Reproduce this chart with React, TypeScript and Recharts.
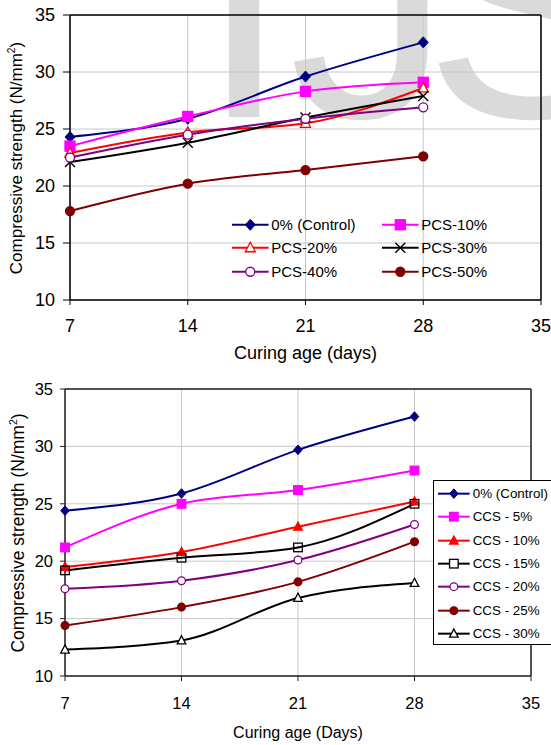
import { CartesianGrid, Legend, Line, LineChart, ReferenceLine, XAxis, YAxis } from "recharts";

// curing age (days) and axis ticks
const days = [7, 14, 21, 28];
const xTicks = [7, 14, 21, 28, 35];
const yTicks = [10, 15, 20, 25, 30, 35];

// top chart: PCS replacement
const pcsNames = ["0% (Control)", "PCS-10%", "PCS-20%", "PCS-30%", "PCS-40%", "PCS-50%"];
const control = [24.3, 25.9, 29.6, 32.6];
const pcs10 = [23.5, 26.1, 28.3, 29.1];
const pcs20 = [22.9, 24.7, 25.5, 28.6];
const pcs30 = [22.1, 23.8, 26.0, 27.9];
const pcs40 = [22.5, 24.5, 25.9, 26.9];
const pcs50 = [17.8, 20.2, 21.4, 22.6];

// bottom chart: CCS replacement
const ccsNames = ["0% (Control)", "CCS - 5%", "CCS - 10%", "CCS - 15%", "CCS - 20%", "CCS - 25%", "CCS - 30%"];
const controlB = [24.4, 25.9, 29.7, 32.6];
const ccs5 = [21.2, 25.0, 26.2, 27.9];
const ccs10 = [19.5, 20.8, 23.0, 25.2];
const ccs15 = [19.2, 20.3, 21.2, 25.0];
const ccs20 = [17.6, 18.3, 20.1, 23.2];
const ccs25 = [14.4, 16.0, 18.2, 21.7];
const ccs30 = [12.3, 13.1, 16.8, 18.1];

const font = "'Liberation Sans', Arial, sans-serif";

type Shape = "diamond" | "square" | "triangle" | "x" | "circle";
type Series = { name: string; values: number[]; color: string; shape: Shape; fill: string };

const topSeries: Series[] = [
  { name: pcsNames[0], values: control, color: "#000080", shape: "diamond", fill: "#000080" },
  { name: pcsNames[1], values: pcs10, color: "#ff00ff", shape: "square", fill: "#ff00ff" },
  { name: pcsNames[2], values: pcs20, color: "#ff0000", shape: "triangle", fill: "#fff" },
  { name: pcsNames[3], values: pcs30, color: "#000000", shape: "x", fill: "none" },
  { name: pcsNames[4], values: pcs40, color: "#800080", shape: "circle", fill: "#fff" },
  { name: pcsNames[5], values: pcs50, color: "#800000", shape: "circle", fill: "#800000" },
];

const bottomSeries: Series[] = [
  { name: ccsNames[0], values: controlB, color: "#000080", shape: "diamond", fill: "#000080" },
  { name: ccsNames[1], values: ccs5, color: "#ff00ff", shape: "square", fill: "#ff00ff" },
  { name: ccsNames[2], values: ccs10, color: "#ff0000", shape: "triangle", fill: "#ff0000" },
  { name: ccsNames[3], values: ccs15, color: "#000000", shape: "square", fill: "none" },
  { name: ccsNames[4], values: ccs20, color: "#800080", shape: "circle", fill: "#fff" },
  { name: ccsNames[5], values: ccs25, color: "#800000", shape: "circle", fill: "#800000" },
  { name: ccsNames[6], values: ccs30, color: "#000000", shape: "triangle", fill: "#fff" },
];

function buildRows(series: Series[]) {
  return days.map((d, i) => {
    const row: Record<string, number> = { day: d };
    series.forEach((s, k) => (row["s" + k] = s.values[i]));
    return row;
  });
}

function Marker({ cx, cy, shape, color, fill, size }: any) {
  if (cx == null || cy == null) return <g />;
  const s = size;
  switch (shape as Shape) {
    case "diamond":
      return <path d={`M${cx},${cy - s - 0.5}L${cx + s},${cy}L${cx},${cy + s + 0.5}L${cx - s},${cy}Z`} fill={color} stroke={color} />;
    case "square":
      return <rect x={cx - s} y={cy - s} width={2 * s} height={2 * s} fill={fill} stroke={color} strokeWidth={1.3} />;
    case "triangle":
      return <path d={`M${cx},${cy - s * 1.1}L${cx + s},${cy + s * 0.8}L${cx - s},${cy + s * 0.8}Z`} fill={fill} stroke={color} strokeWidth={1.3} />;
    case "x":
      return (
        <g stroke={color} strokeWidth={1.4}>
          <line x1={cx - s} y1={cy - s} x2={cx + s} y2={cy + s} />
          <line x1={cx - s} y1={cy + s} x2={cx + s} y2={cy - s} />
        </g>
      );
    default:
      return <circle cx={cx} cy={cy} r={s * 0.9} fill={fill} stroke={color} strokeWidth={1.3} />;
  }
}

function LegendItem({ s, lineLen, size, fontSize, height }: { s: Series; lineLen: number; size: number; fontSize: number; height: number }) {
  return (
    <div style={{ display: "flex", alignItems: "center", height }}>
      <svg width={lineLen + 3} height={height} style={{ flex: "none" }}>
        <line x1={0} x2={lineLen} y1={height / 2} y2={height / 2} stroke={s.color} strokeWidth={2} />
        <Marker cx={lineLen / 2} cy={height / 2} shape={s.shape} color={s.color} fill={s.fill === "none" && s.shape !== "x" ? "#fff" : s.fill} size={size} />
      </svg>
      <span style={{ fontSize, fontFamily: font, whiteSpace: "nowrap", color: "#000" }}>{s.name}</span>
    </div>
  );
}

function TopLegend() {
  return (
    <div style={{ display: "grid", gridTemplateColumns: "150px 150px" }}>
      {topSeries.map((s) => (
        <LegendItem key={s.name} s={s} lineLen={36.6} size={5} fontSize={15} height={23.5} />
      ))}
    </div>
  );
}

function BottomLegend() {
  // the box runs past the right edge of the picture, so its right side is not drawn
  return (
    <div
      style={{
        borderTop: "1px solid #000",
        borderLeft: "1px solid #000",
        borderBottom: "1px solid #000",
        background: "#fff",
        width: 200,
        height: 165,
        paddingTop: 1,
        paddingLeft: 4,
        boxSizing: "border-box",
      }}
    >
      {bottomSeries.map((s) => (
        <LegendItem key={s.name} s={s} lineLen={31.7} size={4.3} fontSize={13.4} height={23.33} />
      ))}
    </div>
  );
}

function YTitle({ cx, cy, size }: { cx: number; cy: number; size: number }) {
  return (
    <div
      style={{
        position: "absolute",
        left: cx,
        top: cy,
        transform: "translate(-50%, -50%) rotate(-90deg)",
        whiteSpace: "nowrap",
        fontFamily: font,
        fontSize: size,
        lineHeight: 1,
      }}
    >
      Compressive strength (N/mm<sup style={{ fontSize: "0.6em", lineHeight: 0 }}>2</sup>)
    </div>
  );
}

function XTitle({ cx, cy, size, text }: { cx: number; cy: number; size: number; text: string }) {
  return (
    <div style={{ position: "absolute", left: cx, top: cy, transform: "translate(-50%, -50%)", whiteSpace: "nowrap", fontFamily: font, fontSize: size, lineHeight: 1 }}>
      {text}
    </div>
  );
}

export default function App() {
  const topRows = buildRows(topSeries);
  const bottomRows = buildRows(bottomSeries);
  return (
    <div style={{ position: "absolute", left: 0, top: 0, width: 551, height: 745, overflow: "hidden", background: "#fff" }}>
      {/* watermark */}
      <svg width={551} height={370} style={{ position: "absolute", left: 0, top: 0 }}>
        <text y={117} fill="#dadada" fontFamily={font} fontSize={325}>
          <tspan x={199}>I</tspan>
          <tspan x={289}>J</tspan>
          <tspan x={424}>S</tspan>
        </text>
      </svg>

      <div style={{ position: "absolute", left: 0, top: 0, width: 551, height: 370, overflow: "hidden" }}>
        <LineChart width={551} height={370} data={topRows} margin={{ top: 15, right: 10, bottom: 0, left: 0 }}>
          <CartesianGrid stroke="#c8c8c8" />
          <XAxis
            dataKey="day"
            type="number"
            domain={[7, 35]}
            ticks={xTicks}
            height={70}
            tickSize={5}
            tickMargin={14}
            tick={{ fill: "#000", fontSize: 18, fontFamily: font }}
            tickLine={{ stroke: "#000" }}
            axisLine={{ stroke: "#000", strokeWidth: 1.5 }}
          />
          <YAxis
            type="number"
            domain={[10, 35]}
            ticks={yTicks}
            width={70}
            tickSize={7}
            tickMargin={8}
            tick={{ fill: "#000", fontSize: 18, fontFamily: font }}
            tickLine={{ stroke: "#000" }}
            axisLine={{ stroke: "#000", strokeWidth: 1.5 }}
          />
          <ReferenceLine y={35} stroke="#000" strokeWidth={1.5} />
          <ReferenceLine x={35} stroke="#000" strokeWidth={1.5} />
          {topSeries.map((s, k) => (
            <Line
              key={s.name}
              dataKey={"s" + k}
              name={s.name}
              type="monotone"
              stroke={s.color}
              strokeWidth={2}
              isAnimationActive={false}
              dot={(p: any) => <Marker key={`${s.name}-${p.index}`} cx={p.cx} cy={p.cy} shape={s.shape} color={s.color} fill={s.fill} size={5} />}
              activeDot={false}
            />
          ))}
          <Legend layout="horizontal" verticalAlign="middle" align="center" content={() => <TopLegend />} wrapperStyle={{ left: 231.7, top: 212.5, width: 300, height: 71 }} />
        </LineChart>
      </div>

      <div style={{ position: "absolute", left: 0, top: 370, width: 551, height: 375, overflow: "hidden" }}>
        <LineChart width={551} height={375} data={bottomRows} margin={{ top: 19, right: 20, bottom: 0, left: 0 }}>
          <CartesianGrid stroke="#c8c8c8" />
          <XAxis
            dataKey="day"
            type="number"
            domain={[7, 35]}
            ticks={xTicks}
            height={69}
            tickSize={5}
            tickMargin={16}
            tick={{ fill: "#000", fontSize: 16.5, fontFamily: font }}
            tickLine={{ stroke: "#222" }}
            axisLine={{ stroke: "#222", strokeWidth: 1.5 }}
          />
          <YAxis
            type="number"
            domain={[10, 35]}
            ticks={yTicks}
            width={65}
            tickSize={5}
            tickMargin={7}
            tick={{ fill: "#000", fontSize: 16.5, fontFamily: font }}
            tickLine={{ stroke: "#222" }}
            axisLine={{ stroke: "#222", strokeWidth: 1.5 }}
          />
          <ReferenceLine y={35} stroke="#222" strokeWidth={1.5} />
          <ReferenceLine x={35} stroke="#222" strokeWidth={1.5} />
          {bottomSeries.map((s, k) => (
            <Line
              key={s.name}
              dataKey={"s" + k}
              name={s.name}
              type="monotone"
              stroke={s.color}
              strokeWidth={2}
              isAnimationActive={false}
              dot={(p: any) => <Marker key={`${s.name}-${p.index}`} cx={p.cx} cy={p.cy} shape={s.shape} color={s.color} fill={s.fill} size={4.3} />}
              activeDot={false}
            />
          ))}
          <Legend layout="horizontal" verticalAlign="middle" align="center" content={() => <BottomLegend />} wrapperStyle={{ left: 433, top: 110, width: 200, height: 165 }} />
        </LineChart>
      </div>

      <YTitle cx={16} cy={157.5} size={17} />
      <XTitle cx={305.5} cy={353} size={18} text="Curing age (days)" />
      <YTitle cx={19} cy={532.5} size={17.5} />
      <XTitle cx={298} cy={732.5} size={16} text="Curing age (Days)" />
    </div>
  );
}
